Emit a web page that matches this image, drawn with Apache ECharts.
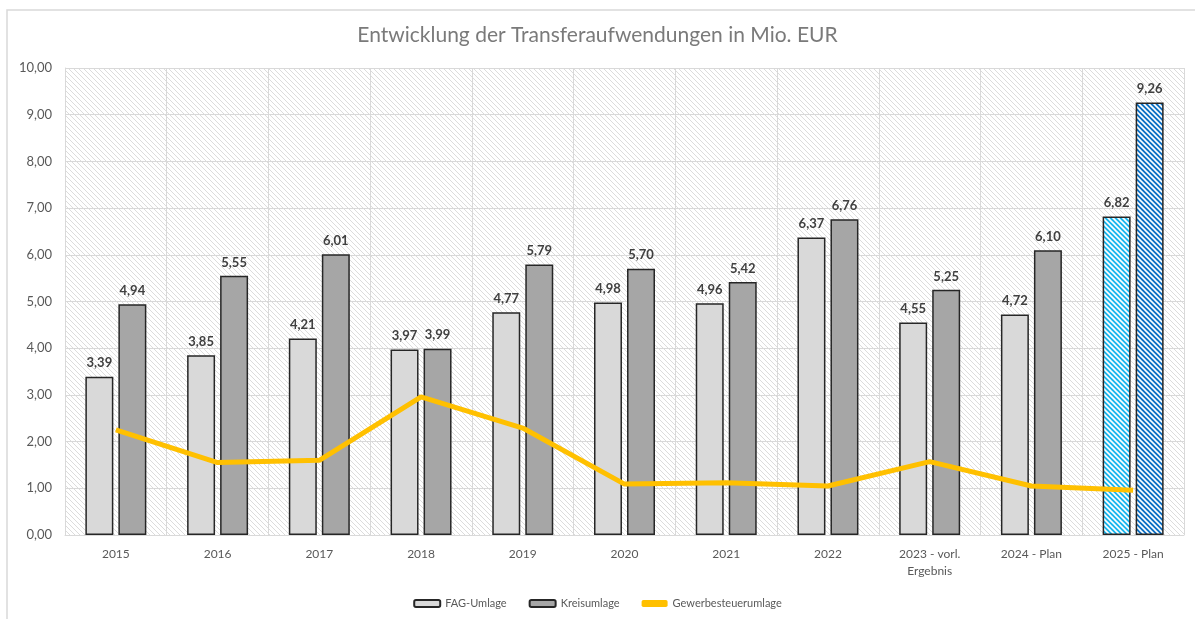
<!DOCTYPE html>
<html>
<head>
<meta charset="utf-8">
<script src="https://cdn.jsdelivr.net/npm/echarts@6/dist/echarts.min.js"></script>
<style>
  html, body { margin: 0; padding: 0; background: #fff; }
  #chart { width: 1195px; height: 619px; }
</style>
</head>
<body>
<div id="chart"></div>
<script>
const categories = ["2015", "2016", "2017", "2018", "2019", "2020", "2021", "2022", "2023 - vorl.\nErgebnis", "2024 - Plan", "2025 - Plan"];
const fagUmlage = [3.39, 3.85, 4.21, 3.97, 4.77, 4.98, 4.96, 6.37, 4.55, 4.72, 6.82];
const kreisumlage = [4.94, 5.55, 6.01, 3.99, 5.79, 5.70, 5.42, 6.76, 5.25, 6.10, 9.26];
const gewerbesteuerumlage = [2.25, 1.55, 1.60, 2.96, 2.29, 1.09, 1.12, 1.05, 1.57, 1.05, 0.96];
const yTicks = [0, 10, 1];

// diagonal hatch tile, lines running top-left to bottom-right
const hatch = (bg, fg, size, width) => {
    const c = document.createElement("canvas");
    c.width = size;
    c.height = size;
    const ctx = c.getContext("2d");
    ctx.fillStyle = bg;
    ctx.fillRect(0, 0, size, size);
    ctx.strokeStyle = fg;
    ctx.lineWidth = width;
    for (const off of [-size, 0, size]) {
        ctx.beginPath();
        ctx.moveTo(off - 1, -1);
        ctx.lineTo(off + size + 1, size + 1);
        ctx.stroke();
    }
    return { image: c, repeat: "repeat" };
};

const plotBg = hatch("#ffffff", "#dcdcdc", 5, 1);
const planFag = hatch("#19b6ee", "#ffffff", 5, 1.6);
const planKreis = hatch("#0b6fc4", "#ffffff", 5, 1.6);

const fmt = (v) => v.toFixed(2).replace(".", ",");
const last = categories.length - 1;

const barLabel = {
    show: true,
    position: "top",
    distance: 7,
    color: "#404040",
    fontWeight: "bold",
    fontSize: 13,
    fontFamily: "Lato",
    formatter: (p) => fmt(p.value),
};

const chart = echarts.init(document.getElementById("chart"), null, { renderer: "canvas" });

chart.setOption({
    animation: false,
    textStyle: { fontFamily: "Lato" },
    title: {
        text: "Entwicklung der Transferaufwendungen in Mio. EUR",
        left: "center",
        top: 25,
        padding: 0,
        textStyle: { color: "#7a7a7a", fontSize: 21, fontWeight: "normal", fontFamily: "Lato" },
    },
    graphic: [{
        type: "rect",
        shape: { x: 7, y: 10, width: 1300, height: 700 },
        style: { fill: "none", stroke: "#d9d9d9", lineWidth: 1.5 },
        silent: true,
    }],
    legend: {
        bottom: 5,
        left: "center",
        itemWidth: 26,
        itemHeight: 7,
        itemGap: 22,
        textStyle: { color: "#595959", fontSize: 11, fontFamily: "Lato" },
        data: [
            "FAG-Umlage",
            "Kreisumlage",
            { name: "Gewerbesteuerumlage", icon: "roundRect", itemStyle: { color: "#ffc000" } },
        ],
    },
    grid: {
        left: 65,
        right: 11,
        top: 68,
        bottom: 84,
        show: true,
        backgroundColor: plotBg,
        borderWidth: 0,
    },
    xAxis: {
        type: "category",
        data: categories,
        axisLine: { lineStyle: { color: "#d9d9d9", width: 1 } },
        axisTick: { show: false },
        axisLabel: { color: "#595959", fontSize: 12, margin: 11, lineHeight: 17, interval: 0 },
        splitLine: { show: true, lineStyle: { color: "#d9d9d9", width: 1 } },
    },
    yAxis: {
        type: "value",
        min: yTicks[0],
        max: yTicks[1],
        interval: yTicks[2],
        axisLine: { show: true, lineStyle: { color: "#d9d9d9" } },
        axisTick: { show: false },
        axisLabel: { color: "#595959", fontSize: 13, margin: 13, formatter: fmt },
        splitLine: { lineStyle: { color: "#d9d9d9", width: 1 } },
    },
    series: [
        {
            name: "FAG-Umlage",
            type: "bar",
            barWidth: "27.5%",
            barGap: "18%",
            itemStyle: { color: "#d9d9d9", borderColor: "#262626", borderWidth: 1.5 },
            label: barLabel,
            data: fagUmlage.map((v, i) => i === last ? { value: v, itemStyle: { color: planFag } } : v),
            z: 2,
        },
        {
            name: "Kreisumlage",
            type: "bar",
            barWidth: "27.5%",
            itemStyle: { color: "#a6a6a6", borderColor: "#262626", borderWidth: 1.5 },
            label: barLabel,
            data: kreisumlage.map((v, i) => i === last ? { value: v, itemStyle: { color: planKreis } } : v),
            z: 2,
        },
        {
            name: "Gewerbesteuerumlage",
            type: "line",
            symbol: "none",
            lineStyle: { color: "#ffc000", width: 5 },
            itemStyle: { color: "#ffc000" },
            data: gewerbesteuerumlage,
            z: 3,
        },
    ],
});
</script>
</body>
</html>
